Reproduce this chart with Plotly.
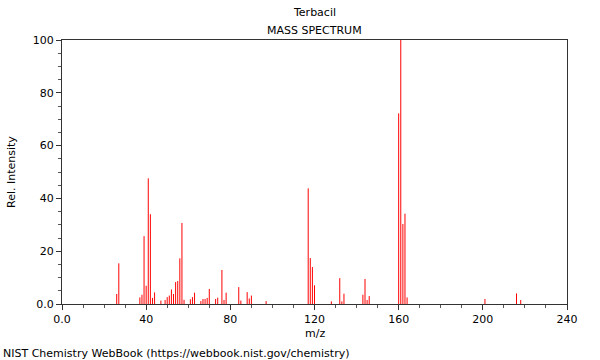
import plotly.graph_objects as go

# m/z values and relative intensities
mz = [26, 27, 37, 38, 39, 40, 41, 42, 43, 44, 47, 49, 50, 51, 52, 53, 54, 55, 56, 57,
      58, 61, 62, 63, 66, 67, 68, 69, 70, 73, 74, 76, 77, 78, 84, 85, 88, 89, 90, 97,
      117, 118, 119, 120, 128, 132, 133, 134, 143, 144, 145, 146,
      160, 161, 162, 163, 164, 201, 216, 218]
intensity = [3.8, 15.4, 2.5, 3.5, 25.7, 6.9, 47.6, 34.0, 2.3, 4.4, 1.3, 1.5, 2.6, 3.2, 5.5, 3.8, 8.3, 8.7, 17.3, 30.7,
             1.6, 1.8, 2.6, 4.3, 1.1, 1.9, 1.9, 2.3, 5.7, 1.9, 2.4, 12.9, 1.5, 4.3, 6.4, 1.3, 4.5, 2.1, 3.2, 1.1,
             43.8, 17.4, 14.0, 7.1, 1.0, 9.8, 1.0, 3.9, 3.5, 9.5, 1.5, 3.0,
             72.2, 100.0, 30.3, 34.2, 2.5, 1.9, 4.0, 1.5]

x_ticks = [0, 40, 80, 120, 160, 200, 240]
x_labels = ["0.0", "40", "80", "120", "160", "200", "240"]
y_ticks = [0, 20, 40, 60, 80, 100]
y_labels = ["0.0", "20", "40", "60", "80", "100"]

xs, ys = [], []
for m, h in zip(mz, intensity):
    xs += [m, m, None]
    ys += [0, h, None]

fig = go.Figure()
fig.add_trace(go.Scatter(x=xs, y=ys, mode="lines",
                         line=dict(color="#ff0000", width=1),
                         hoverinfo="skip", showlegend=False))

font = dict(family="DejaVu Sans", size=11, color="black")

fig.update_layout(
    width=600, height=360,
    margin=dict(l=62, r=33, t=40, b=56),
    paper_bgcolor="white", plot_bgcolor="white",
    font=font,
    showlegend=False,
    xaxis=dict(range=[0, 240], tickvals=x_ticks, ticktext=x_labels,
               ticks="outside", ticklen=5, tickcolor="#333",
               showline=True, linecolor="#333", linewidth=1, mirror=True,
               showgrid=False, zeroline=False,
               minor=dict(dtick=10, ticks="outside", ticklen=3, tickcolor="#555", showgrid=False),
               tickfont=font),
    yaxis=dict(range=[0, 100], tickvals=y_ticks, ticktext=y_labels,
               ticks="outside", ticklen=5, tickcolor="#333",
               showline=True, linecolor="#333", linewidth=1, mirror=True,
               showgrid=False, zeroline=False,
               minor=dict(dtick=5, ticks="outside", ticklen=3, tickcolor="#555", showgrid=False),
               tickfont=font),
    annotations=[
        dict(text="Terbacil", xref="paper", yref="paper", x=0.5, y=(304 - 13) / 264,
             xanchor="center", yanchor="middle", showarrow=False, font=font),
        dict(text="MASS SPECTRUM", xref="paper", yref="paper", x=0.5, y=(304 - 30) / 264,
             xanchor="center", yanchor="middle", showarrow=False, font=font),
        dict(text="m/z", xref="paper", yref="paper", x=0.5, y=(304 - 333) / 264,
             xanchor="center", yanchor="middle", showarrow=False, font=font),
        dict(text="Rel. Intensity", xref="paper", yref="paper", x=(11 - 62) / 505, y=0.5,
             xanchor="center", yanchor="middle", textangle=-90, showarrow=False, font=font),
        dict(text="NIST Chemistry WebBook (https://webbook.nist.gov/chemistry)",
             xref="paper", yref="paper", x=(1 - 62) / 505, y=(304 - 353) / 264,
             xanchor="left", yanchor="middle", showarrow=False, font=font),
    ],
)

fig.write_html("out.html", config={"displayModeBar": False},
               post_script="document.body.style.margin='0';document.body.style.overflow='hidden';")
